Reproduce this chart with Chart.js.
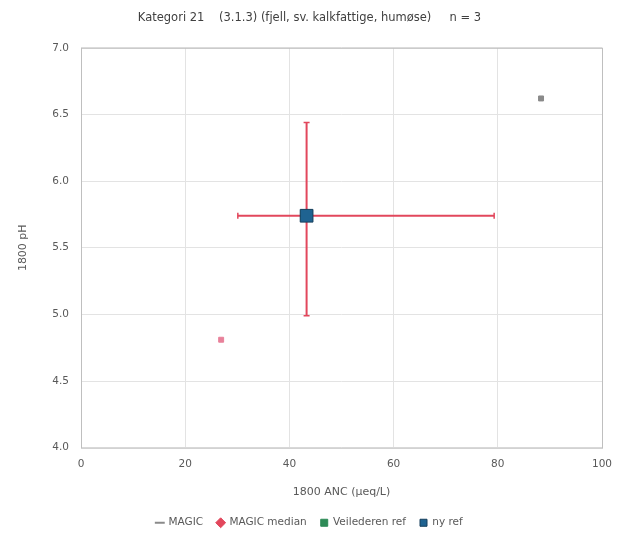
<!DOCTYPE html>
<html>
<head>
<meta charset="utf-8">
<script src="https://cdn.jsdelivr.net/npm/chart.js@4/dist/chart.umd.min.js"></script>
<style>
  html, body { margin: 0; padding: 0; background: #fff; }
  #chart1 { display: block; }
</style>
</head>
<body>
<canvas id="chart1" width="619" height="540"></canvas>
<script>
const ctx = document.getElementById('chart1').getContext('2d');

// data
const magicAnc = [88.3, 26.9];
const magicPh = [6.62, 4.81];
const medianAnc = [43.3];
const medianPh = [5.74];
const ancRange = [30.1, 79.3];   // horizontal bar on the median
const phRange = [4.99, 6.44];    // vertical bar on the median
const veilAnc = [43.3];
const veilPh = [5.74];
const nyAnc = [43.3];
const nyPh = [5.74];
const xTicks = [0, 20, 40, 60, 80, 100];
const yTicks = [4.0, 4.5, 5.0, 5.5, 6.0, 6.5, 7.0];

const toPts = (xs, ys) => xs.map((x, i) => ({ x: x, y: ys[i] }));

const rod = '#e2475c';
const tekst = '#595959';
const skrift = 'DejaVu Sans';

const boxBorder = {
  id: 'boxBorder',
  afterDraw(chart) {
    const a = chart.chartArea;
    const c = chart.ctx;
    c.save();
    c.strokeStyle = '#bfbfbf';
    c.lineWidth = 1;
    c.strokeRect(a.left + 0.5, a.top + 0.5, a.right - a.left, a.bottom - a.top);
    c.restore();
  }
};

new Chart(ctx, {
  type: 'scatter',
  data: {
    datasets: [{
      label: 'ny ref',
      data: toPts(nyAnc, nyPh),
      pointStyle: 'rect',
      pointRadius: 9,
      backgroundColor: '#1f6391',
      borderColor: '#163f5c',
      borderWidth: 1,
      order: 1
    }, {
      label: 'Veilederen ref',
      data: toPts(veilAnc, veilPh),
      pointStyle: 'rect',
      pointRadius: 8,
      backgroundColor: '#2e8b57',
      borderColor: '#2e8b57',
      order: 2
    }, {
      label: 'MAGIC median',
      data: toPts(medianAnc, medianPh),
      pointStyle: 'rectRot',
      pointRadius: 4,
      backgroundColor: rod,
      borderColor: rod,
      order: 3
    }, {
      label: 'MAGIC',
      data: toPts(magicAnc, magicPh),
      pointStyle: 'rect',
      pointRadius: 3.5,
      backgroundColor: ['#8a8a8a', '#e8819a'],
      borderColor: ['#8a8a8a', '#e8819a'],
      order: 4
    }, {
      label: 'errX',
      type: 'line',
      data: toPts(ancRange, [medianPh[0], medianPh[0]]),
      borderColor: rod,
      borderWidth: 2,
      pointStyle: 'line',
      pointRotation: 90,
      pointRadius: 3,
      pointBorderColor: rod,
      pointBorderWidth: 1.5,
      showLine: true,
      order: 5
    }, {
      label: 'errY',
      type: 'line',
      data: toPts([medianAnc[0], medianAnc[0]], phRange),
      borderColor: rod,
      borderWidth: 2,
      pointStyle: 'line',
      pointRadius: 3,
      pointBorderColor: rod,
      pointBorderWidth: 1.5,
      showLine: true,
      order: 6
    }]
  },
  options: {
    responsive: false,
    animation: false,
    layout: { padding: { top: 11, right: 17, bottom: 2, left: 17 } },
    scales: {
      x: {
        type: 'linear',
        min: 0,
        max: 100,
        afterBuildTicks: (s) => { s.ticks = xTicks.map(v => ({ value: v })); },
        afterFit: (s) => { s.paddingRight = 0; s.paddingLeft = 0; },
        ticks: { color: tekst, font: { family: skrift, size: 10.5 }, padding: 10 },
        grid: { color: '#e3e3e3', drawTicks: false },
        border: { display: false },
        title: {
          display: true,
          text: '1800 ANC (µeq/L)',
          color: tekst,
          font: { family: skrift, size: 11 },
          padding: { top: 5, bottom: 5 }
        }
      },
      y: {
        type: 'linear',
        min: 4,
        max: 7,
        afterBuildTicks: (s) => { s.ticks = yTicks.map(v => ({ value: v })); },
        afterFit: (s) => { s.width = 64; },
        ticks: {
          color: tekst,
          font: { family: skrift, size: 10.5 },
          padding: 12,
          callback: (v) => Number(v).toFixed(1)
        },
        grid: { color: '#e3e3e3', drawTicks: false },
        border: { display: false },
        title: {
          display: true,
          text: '1800 pH',
          color: tekst,
          font: { family: skrift, size: 11 },
          padding: { top: 0, bottom: 0 }
        }
      }
    },
    plugins: {
      title: {
        display: true,
        text: 'Kategori 21    (3.1.3) (fjell, sv. kalkfattige, humøse)     n = 3',
        color: '#404040',
        font: { family: skrift, size: 11.5, weight: 'normal' },
        padding: { top: 0, bottom: 23 }
      },
      legend: {
        position: 'bottom',
        labels: {
          color: tekst,
          font: { family: skrift, size: 10.5 },
          usePointStyle: true,
          boxWidth: 7,
          boxHeight: 7,
          padding: 14,
          filter: (item) => item.text !== 'errX' && item.text !== 'errY',
          sort: (a, b) => ['MAGIC', 'MAGIC median', 'Veilederen ref', 'ny ref'].indexOf(a.text) -
                          ['MAGIC', 'MAGIC median', 'Veilederen ref', 'ny ref'].indexOf(b.text),
          generateLabels: (chart) => {
            const items = Chart.defaults.plugins.legend.labels.generateLabels(chart);
            items.forEach(it => {
              if (it.text === 'MAGIC') {
                it.pointStyle = 'line';
                it.strokeStyle = '#8a8a8a';
                it.fillStyle = '#8a8a8a';
                it.lineWidth = 2;
              }
            });
            return items;
          }
        }
      },
      tooltip: { enabled: false }
    }
  },
  plugins: [boxBorder]
});
</script>
</body>
</html>
